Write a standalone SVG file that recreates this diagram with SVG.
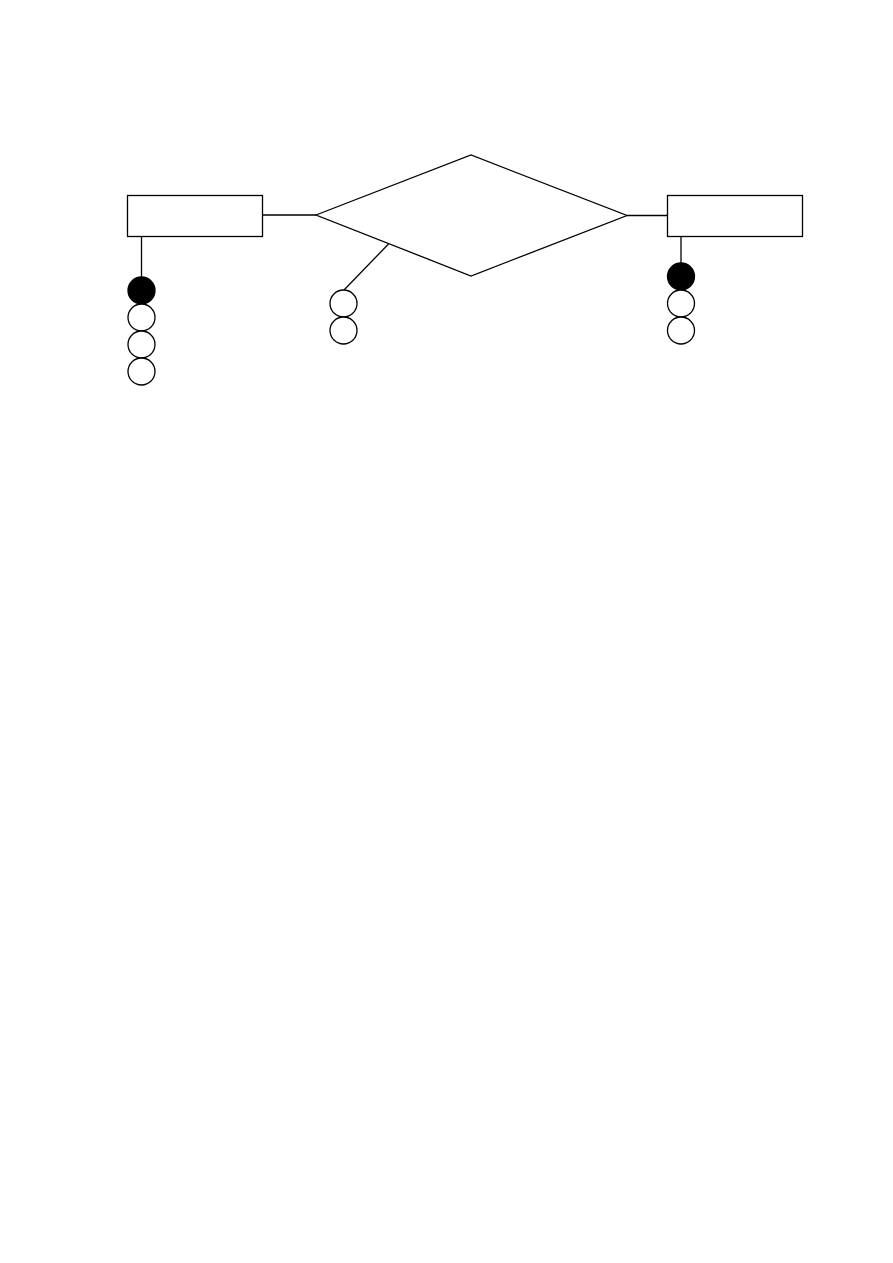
<svg xmlns="http://www.w3.org/2000/svg" width="893" height="1263" viewBox="0 0 893 1263">
<style>
.s{fill:#fff;stroke:#000;stroke-width:1.3}
.f{fill:#000;stroke:#000;stroke-width:1.3}
.c{stroke:#000;stroke-width:1.3;fill:none}
</style>
<rect width="893" height="1263" fill="#fff"/>
<g id="connectors">
<line class="c" x1="262.5" y1="215" x2="316" y2="215" stroke-width="2"/>
<line class="c" x1="627" y1="215.5" x2="667.5" y2="215.5"/>
<line class="c" x1="141.5" y1="236.5" x2="141.5" y2="277"/>
<line class="c" x1="681" y1="236.5" x2="681" y2="263"/>
<line class="c" x1="388.5" y1="244" x2="344" y2="290"/>
</g>
<g id="entity-left"><rect class="s" x="127.5" y="195.5" width="135" height="41"/></g>
<g id="relationship"><polygon class="s" points="316,215 471,155 627,215.5 471,276"/></g>
<g id="entity-right"><rect class="s" x="667.5" y="195.5" width="135" height="41"/></g>
<g id="attrs-left">
<circle class="f" cx="141.5" cy="290.5" r="13.5"/>
<circle class="s" cx="141.5" cy="317.5" r="13.5"/>
<circle class="s" cx="141.5" cy="344.5" r="13.5"/>
<circle class="s" cx="141.5" cy="371.5" r="13.5"/>
</g>
<g id="attrs-middle">
<circle class="s" cx="343.5" cy="303.5" r="13.5"/>
<circle class="s" cx="343.5" cy="330.5" r="13.5"/>
</g>
<g id="attrs-right">
<circle class="f" cx="681" cy="276.5" r="13.5"/>
<circle class="s" cx="681" cy="303.5" r="13.5"/>
<circle class="s" cx="681" cy="330.5" r="13.5"/>
</g>
</svg>
